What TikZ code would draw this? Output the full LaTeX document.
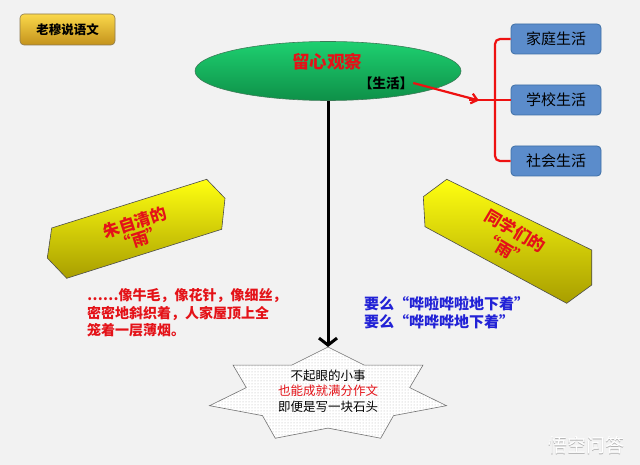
\documentclass[tikz,border=0pt]{standalone}
\usepackage{fontspec}
\setmainfont{Noto Sans CJK SC}
\usetikzlibrary{shapes.geometric,arrows.meta,patterns,calc}
\definecolor{bg}{HTML}{F2F2F2}
\definecolor{goldtop}{HTML}{FAD84A}
\definecolor{goldbot}{HTML}{C4921C}
\definecolor{goldline}{HTML}{8C7A50}
\definecolor{greentop}{HTML}{1ED070}
\definecolor{greenbot}{HTML}{0E9048}
\definecolor{greenline}{HTML}{3C7C58}
\definecolor{boxblue}{HTML}{5B8CCB}
\definecolor{boxline}{HTML}{3E6FA6}
\definecolor{yeltop}{HTML}{FFFF10}
\definecolor{yelbot}{HTML}{A89E00}
\definecolor{txtred}{HTML}{E41218}
\definecolor{txtblue}{HTML}{2222D6}
\definecolor{linered}{HTML}{EE1111}
\begin{document}
\begin{tikzpicture}[x=1pt,y=-1pt,
  titlebox/.style={draw=goldline, line width=0.6pt, rounded corners=4pt,
    top color=goldtop, bottom color=goldbot, minimum width=95pt, minimum height=31pt,
    inner sep=0pt, font=\fontsize{12.5}{14}\selectfont\bfseries},
  obsstyle/.style={ellipse, draw=greenline, line width=0.6pt,
    top color=greentop, bottom color=greenbot, minimum width=266pt, minimum height=59pt, inner sep=0pt},
  lifebox/.style={draw=boxline, line width=0.8pt, rounded corners=4pt, fill=boxblue,
    minimum width=90pt, minimum height=30pt, inner sep=0pt, font=\fontsize{15}{17}\selectfont},
  redline/.style={draw=linered, line width=2.2pt},
  yelbox/.style={draw=black!70, line width=0.6pt, top color=yeltop, bottom color=yelbot},
  yeltext/.style={text=txtred, align=center, inner sep=0pt},
  startyle/.style={draw=black!55, line width=0.6pt, preaction={fill=white}, pattern=dots, pattern color=black!30},
  blackarrow/.style={draw=black, line width=3pt, -{Straight Barb[length=7pt,width=18pt]}}
]
\useasboundingbox (0,0) rectangle (640,465);
\fill[bg] (0,0) rectangle (640,465);

% title
\node[titlebox] (title) at (67.5,29.5) {老穆说语文};

% ellipse
\node[obsstyle] (obs) at (328,71) {};
\node[inner sep=0pt, text=txtred, font=\fontsize{17.5}{19}\selectfont\bfseries] (obst) at (327,62) {留心观察};
\node[inner sep=0pt, font=\fontsize{13.5}{15}\selectfont\bfseries] (life) at (386,83) {【生活】};

% blue boxes
\node[lifebox] (b1) at (556,39) {家庭生活};
\node[lifebox] (b2) at (556,100) {学校生活};
\node[lifebox] (b3) at (556,161) {社会生活};

% red bracket and arrow
\coordinate (tail) at (469,100);
\coordinate (tip) at (479,100.5);
\draw[redline, rounded corners=5pt] (b1.west) -- (495,39) -- (495,161) -- (b3.west);
\draw[redline] (tail) -- (b2.west);
\draw[redline, -{Straight Barb[length=6pt,width=10pt]}] (life.east) -- (tip);

% yellow boxes
\path[yelbox] (51.7,228) -- (206.7,179.3) -- (225,198.3) -- (221.7,229.3) -- (66.7,278.3) -- (47.3,258) -- cycle;
\path[yelbox] (446.7,179.3) -- (591.7,250) -- (591.7,285) -- (566.7,303.3) -- (425,226.7) -- (423.3,196.7) -- cycle;
\node[yeltext, rotate=18, font=\fontsize{16.5}{17}\selectfont\bfseries] (zhu) at (137.5,230.5) {朱自清的\\“雨”};
\node[yeltext, rotate=-31, font=\fontsize{16.5}{21}\selectfont\bfseries] (tong) at (510,240) {同学们的\\“雨”};

% paragraphs
\node[anchor=west, align=left, inner sep=0pt, text=txtred, font=\fontsize{14}{17.5}\selectfont\bfseries] (zhutxt) at (87,313)
  {……像牛毛，像花针，像细丝，\\密密地斜织着，人家屋顶上全\\笼着一层薄烟。};
\node[anchor=west, align=left, inner sep=0pt, text=txtblue, font=\fontsize{15}{17.7}\selectfont\bfseries] (tongtxt) at (364,313)
  {要么“哗啦哗啦地下着”\\要么“哗哗哗地下着”};

% star
\coordinate (sc) at (328,395);
\coordinate (startop) at (328,347);
\path[startyle] ($(sc)+(-90:121.5 and 48)$)
  \foreach \k in {1,...,7} { -- ($(sc)+({-90+(\k-0.5)*51.4286}:83.8 and 33.1)$) -- ($(sc)+({-90+\k*51.4286}:121.5 and 48)$) } -- cycle;
\node[align=center, inner sep=0pt, font=\fontsize{12.5}{15.5}\selectfont] (startxt) at (328,391)
  {不起眼的小事\\\textcolor{txtred}{也能成就满分作文}\\即便是写一块石头};

% main arrow
\draw[blackarrow] (obs.south) -- (startop);

% watermark
\node[inner sep=0pt, text=black!30, font=\fontsize{19}{20}\selectfont] (wmshadow) at (586.8,445.8) {悟空问答};
\node[inner sep=0pt, text=white, font=\fontsize{19}{20}\selectfont] (wm) at (586,445) {悟空问答};
\end{tikzpicture}
\end{document}
